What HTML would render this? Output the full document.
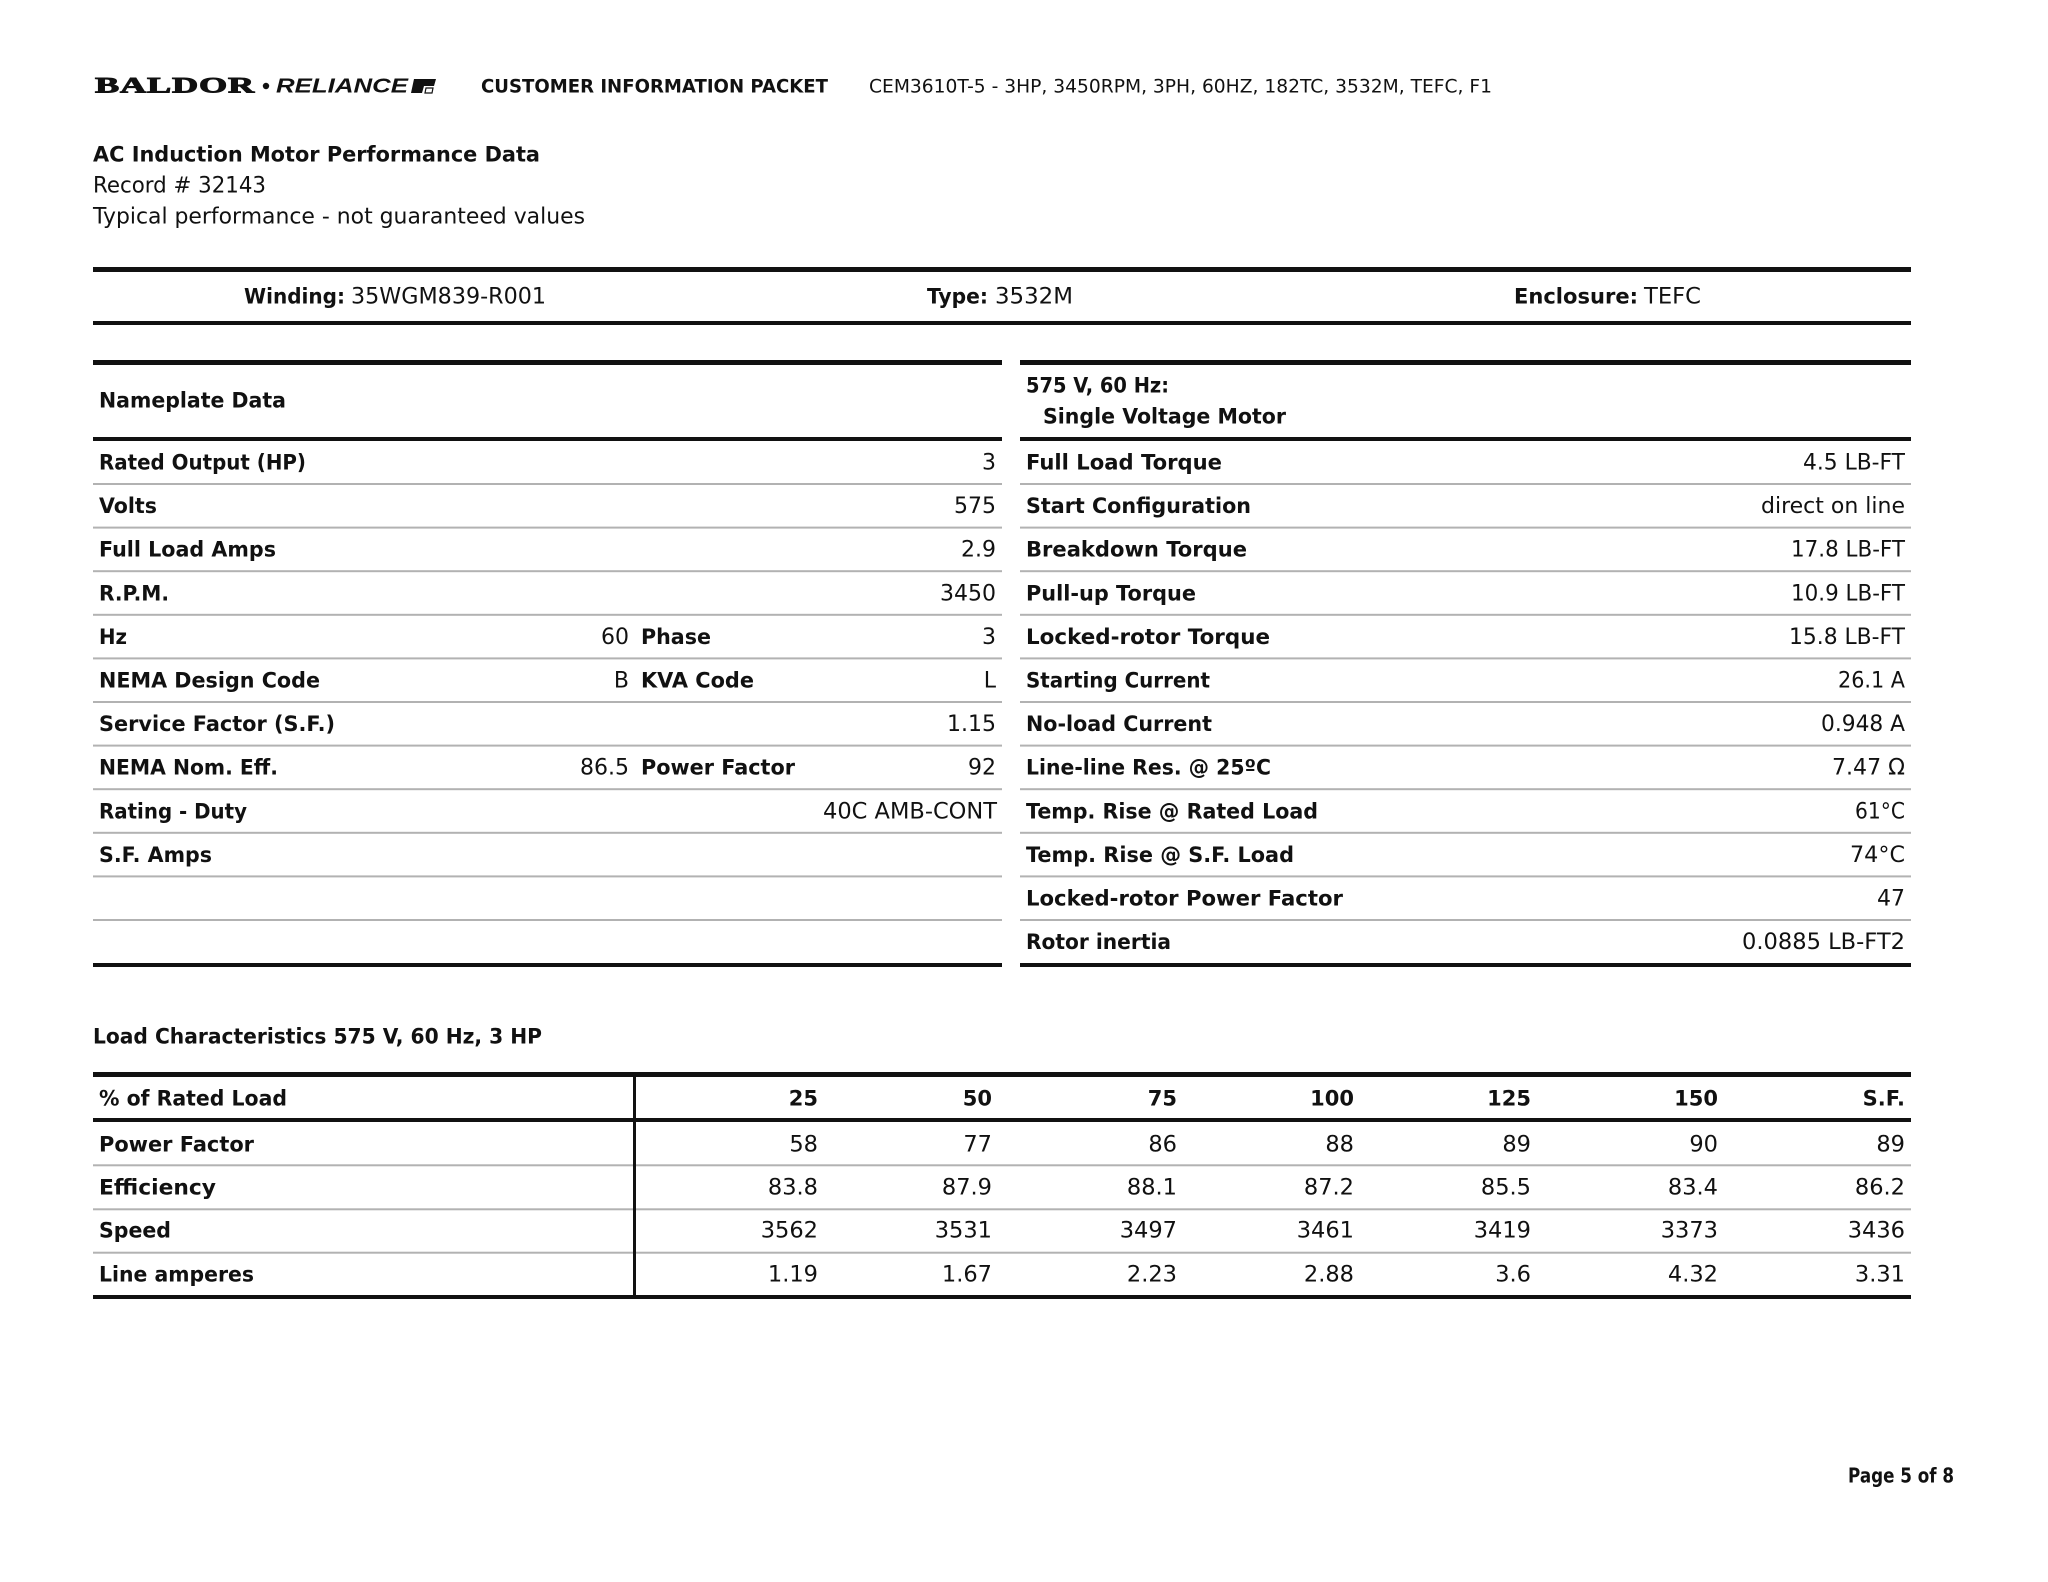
<!DOCTYPE html>
<html>
<head>
<meta charset="utf-8">
<style>
html,body{margin:0;padding:0;background:#fff;}
svg{display:block;}
text{fill:#111;font-family:"DejaVu Sans","Liberation Sans",sans-serif;transform:translateY(-1.5px);}
.b{font-weight:bold;font-size:21px;}
.r{font-size:22px;}
.n{font-size:22.5px;}
.g{fill:#b2b2b2;}
</style>
</head>
<body>
<svg width="2048" height="1582" viewBox="0 0 2048 1582" xmlns="http://www.w3.org/2000/svg">
<rect x="0" y="0" width="2048" height="1582" fill="#fff"/>

<!-- Header -->
<text x="95" y="94" style="font-family:'Liberation Serif',serif;font-weight:bold;font-size:22px;letter-spacing:0.5px;stroke:#111;stroke-width:0.9px" textLength="160" lengthAdjust="spacingAndGlyphs">BALDOR</text>
<circle cx="266" cy="86" r="3.2" fill="#111"/>
<text x="276" y="94" style="font-family:'Liberation Sans',sans-serif;font-weight:bold;font-style:italic;font-size:20.5px" textLength="132" lengthAdjust="spacingAndGlyphs">RELIANCE</text>
<polygon points="414,79 436,79 434,86 424,86 422,93 411,93" fill="#111"/>
<polygon points="426,88 433,88 432,93 425,93" fill="none" stroke="#111" stroke-width="1.2"/>
<text x="481" y="94" style="font-weight:bold;font-size:18.5px" textLength="347" lengthAdjust="spacingAndGlyphs">CUSTOMER INFORMATION PACKET</text>
<text x="869" y="94" style="font-size:19px" textLength="623" lengthAdjust="spacingAndGlyphs">CEM3610T-5 - 3HP, 3450RPM, 3PH, 60HZ, 182TC, 3532M, TEFC, F1</text>

<!-- Titles -->
<text x="93" y="163" class="b" style="font-size:21.5px" textLength="447" lengthAdjust="spacingAndGlyphs">AC Induction Motor Performance Data</text>
<text x="93" y="194" class="r" textLength="173" lengthAdjust="spacingAndGlyphs">Record # 32143</text>
<text x="93" y="225" class="r" textLength="492" lengthAdjust="spacingAndGlyphs">Typical performance - not guaranteed values</text>

<!-- Winding band -->
<rect x="93" y="267" width="1818" height="5" fill="#111"/>
<text x="244" y="305" class="b" textLength="101" lengthAdjust="spacingAndGlyphs">Winding:</text>
<text x="351" y="305" class="r" textLength="195" lengthAdjust="spacingAndGlyphs">35WGM839-R001</text>
<text x="927" y="305" class="b" textLength="61" lengthAdjust="spacingAndGlyphs">Type:</text>
<text x="995" y="305" class="r" textLength="78" lengthAdjust="spacingAndGlyphs">3532M</text>
<text x="1514" y="305" class="b" textLength="124" lengthAdjust="spacingAndGlyphs">Enclosure:</text>
<text x="1644" y="305" class="r" textLength="57" lengthAdjust="spacingAndGlyphs">TEFC</text>
<rect x="93" y="321" width="1818" height="4" fill="#111"/>

<!-- Left table -->
<rect x="93" y="360" width="909" height="5" fill="#111"/>
<rect x="93" y="437" width="909" height="4" fill="#111"/>
<text x="99" y="409" class="b" textLength="187" lengthAdjust="spacingAndGlyphs">Nameplate Data</text>
<g>
<rect class="g" x="93" y="483" width="909" height="2"/>
<rect class="g" x="93" y="526.6" width="909" height="2"/>
<rect class="g" x="93" y="570.2" width="909" height="2"/>
<rect class="g" x="93" y="613.8" width="909" height="2"/>
<rect class="g" x="93" y="657.4" width="909" height="2"/>
<rect class="g" x="93" y="701" width="909" height="2"/>
<rect class="g" x="93" y="744.6" width="909" height="2"/>
<rect class="g" x="93" y="788.2" width="909" height="2"/>
<rect class="g" x="93" y="831.8" width="909" height="2"/>
<rect class="g" x="93" y="875.4" width="909" height="2"/>
<rect class="g" x="93" y="919" width="909" height="2"/>
</g>
<rect x="93" y="963" width="909" height="4" fill="#111"/>

<text x="99" y="471" class="b" textLength="207" lengthAdjust="spacingAndGlyphs">Rated Output (HP)</text>
<text x="996" y="471" class="r" text-anchor="end">3</text>
<text x="99" y="514.6" class="b" textLength="58" lengthAdjust="spacingAndGlyphs">Volts</text>
<text x="996" y="514.6" class="r" text-anchor="end">575</text>
<text x="99" y="558.2" class="b" textLength="177" lengthAdjust="spacingAndGlyphs">Full Load Amps</text>
<text x="996" y="558.2" class="r" text-anchor="end">2.9</text>
<text x="99" y="601.8" class="b" textLength="70" lengthAdjust="spacingAndGlyphs">R.P.M.</text>
<text x="996" y="601.8" class="r" text-anchor="end">3450</text>
<text x="99" y="645.4" class="b" textLength="28" lengthAdjust="spacingAndGlyphs">Hz</text>
<text x="629" y="645.4" class="r" text-anchor="end">60</text>
<text x="641" y="645.4" class="b" textLength="70" lengthAdjust="spacingAndGlyphs">Phase</text>
<text x="996" y="645.4" class="r" text-anchor="end">3</text>
<text x="99" y="689" class="b" textLength="221" lengthAdjust="spacingAndGlyphs">NEMA Design Code</text>
<text x="629" y="689" class="r" text-anchor="end">B</text>
<text x="641" y="689" class="b" textLength="113" lengthAdjust="spacingAndGlyphs">KVA Code</text>
<text x="996" y="689" class="r" text-anchor="end">L</text>
<text x="99" y="732.6" class="b" textLength="236" lengthAdjust="spacingAndGlyphs">Service Factor (S.F.)</text>
<text x="996" y="732.6" class="r" text-anchor="end">1.15</text>
<text x="99" y="776.2" class="b" textLength="179" lengthAdjust="spacingAndGlyphs">NEMA Nom. Eff.</text>
<text x="629" y="776.2" class="r" text-anchor="end">86.5</text>
<text x="641" y="776.2" class="b" textLength="154" lengthAdjust="spacingAndGlyphs">Power Factor</text>
<text x="996" y="776.2" class="r" text-anchor="end">92</text>
<text x="99" y="819.8" class="b" textLength="148" lengthAdjust="spacingAndGlyphs">Rating - Duty</text>
<text x="823" y="819.8" class="r" textLength="174" lengthAdjust="spacingAndGlyphs">40C AMB-CONT</text>
<text x="99" y="863.4" class="b" textLength="113" lengthAdjust="spacingAndGlyphs">S.F. Amps</text>

<!-- Right table -->
<rect x="1020" y="360" width="891" height="5" fill="#111"/>
<rect x="1020" y="437" width="891" height="4" fill="#111"/>
<text x="1026" y="394" class="b" textLength="143" lengthAdjust="spacingAndGlyphs">575 V, 60 Hz:</text>
<text x="1043" y="425" class="b" textLength="243" lengthAdjust="spacingAndGlyphs">Single Voltage Motor</text>
<g>
<rect class="g" x="1020" y="483" width="891" height="2"/>
<rect class="g" x="1020" y="526.6" width="891" height="2"/>
<rect class="g" x="1020" y="570.2" width="891" height="2"/>
<rect class="g" x="1020" y="613.8" width="891" height="2"/>
<rect class="g" x="1020" y="657.4" width="891" height="2"/>
<rect class="g" x="1020" y="701" width="891" height="2"/>
<rect class="g" x="1020" y="744.6" width="891" height="2"/>
<rect class="g" x="1020" y="788.2" width="891" height="2"/>
<rect class="g" x="1020" y="831.8" width="891" height="2"/>
<rect class="g" x="1020" y="875.4" width="891" height="2"/>
<rect class="g" x="1020" y="919" width="891" height="2"/>
</g>
<rect x="1020" y="963" width="891" height="4" fill="#111"/>

<text x="1026" y="471" class="b" textLength="196" lengthAdjust="spacingAndGlyphs">Full Load Torque</text>
<text x="1803" y="471" class="r" textLength="102" lengthAdjust="spacingAndGlyphs">4.5 LB-FT</text>
<text x="1026" y="514.6" class="b" textLength="225" lengthAdjust="spacingAndGlyphs">Start Configuration</text>
<text x="1761" y="514.6" class="r" textLength="144" lengthAdjust="spacingAndGlyphs">direct on line</text>
<text x="1026" y="558.2" class="b" textLength="221" lengthAdjust="spacingAndGlyphs">Breakdown Torque</text>
<text x="1791" y="558.2" class="r" textLength="114" lengthAdjust="spacingAndGlyphs">17.8 LB-FT</text>
<text x="1026" y="601.8" class="b" textLength="170" lengthAdjust="spacingAndGlyphs">Pull-up Torque</text>
<text x="1791" y="601.8" class="r" textLength="114" lengthAdjust="spacingAndGlyphs">10.9 LB-FT</text>
<text x="1026" y="645.4" class="b" textLength="244" lengthAdjust="spacingAndGlyphs">Locked-rotor Torque</text>
<text x="1789" y="645.4" class="r" textLength="116" lengthAdjust="spacingAndGlyphs">15.8 LB-FT</text>
<text x="1026" y="689" class="b" textLength="184" lengthAdjust="spacingAndGlyphs">Starting Current</text>
<text x="1838" y="689" class="r" textLength="67" lengthAdjust="spacingAndGlyphs">26.1 A</text>
<text x="1026" y="732.6" class="b" textLength="186" lengthAdjust="spacingAndGlyphs">No-load Current</text>
<text x="1821" y="732.6" class="r" textLength="84" lengthAdjust="spacingAndGlyphs">0.948 A</text>
<text x="1026" y="776.2" class="b" textLength="245" lengthAdjust="spacingAndGlyphs">Line-line Res. @ 25ºC</text>
<text x="1832" y="776.2" class="r" textLength="73" lengthAdjust="spacingAndGlyphs">7.47 Ω</text>
<text x="1026" y="819.8" class="b" textLength="292" lengthAdjust="spacingAndGlyphs">Temp. Rise @ Rated Load</text>
<text x="1855" y="819.8" class="r" textLength="50" lengthAdjust="spacingAndGlyphs">61°C</text>
<text x="1026" y="863.4" class="b" textLength="268" lengthAdjust="spacingAndGlyphs">Temp. Rise @ S.F. Load</text>
<text x="1850" y="863.4" class="r" textLength="55" lengthAdjust="spacingAndGlyphs">74°C</text>
<text x="1026" y="907" class="b" textLength="317" lengthAdjust="spacingAndGlyphs">Locked-rotor Power Factor</text>
<text x="1905" y="907" class="r" text-anchor="end">47</text>
<text x="1026" y="950.6" class="b" textLength="145" lengthAdjust="spacingAndGlyphs">Rotor inertia</text>
<text x="1742" y="950.6" class="r" textLength="163" lengthAdjust="spacingAndGlyphs">0.0885 LB-FT2</text>

<!-- Load characteristics -->
<text x="93" y="1045" class="b" textLength="449" lengthAdjust="spacingAndGlyphs">Load Characteristics 575 V, 60 Hz, 3 HP</text>
<rect x="93" y="1072" width="1818" height="5" fill="#111"/>
<rect x="93" y="1118" width="1818" height="4" fill="#111"/>
<rect class="g" x="93" y="1164.3" width="1818" height="2"/>
<rect class="g" x="93" y="1208.3" width="1818" height="2"/>
<rect class="g" x="93" y="1251.7" width="1818" height="2"/>
<rect x="93" y="1295" width="1818" height="4" fill="#111"/>
<rect x="633" y="1072" width="3" height="227" fill="#111"/>

<text x="99" y="1107" class="b" textLength="188" lengthAdjust="spacingAndGlyphs">% of Rated Load</text>
<g text-anchor="end">
<text x="818" y="1107" class="b">25</text>
<text x="992" y="1107" class="b">50</text>
<text x="1177" y="1107" class="b">75</text>
<text x="1354" y="1107" class="b">100</text>
<text x="1531" y="1107" class="b">125</text>
<text x="1718" y="1107" class="b">150</text>
<text x="1905" y="1107" class="b">S.F.</text>
</g>

<text x="99" y="1153" class="b" textLength="155" lengthAdjust="spacingAndGlyphs">Power Factor</text>
<text x="99" y="1196" class="b" textLength="117" lengthAdjust="spacingAndGlyphs">Efficiency</text>
<text x="99" y="1239" class="b" textLength="72" lengthAdjust="spacingAndGlyphs">Speed</text>
<text x="99" y="1283" class="b" textLength="155" lengthAdjust="spacingAndGlyphs">Line amperes</text>

<g text-anchor="end">
<text x="818" y="1153" class="n">58</text>
<text x="992" y="1153" class="n">77</text>
<text x="1177" y="1153" class="n">86</text>
<text x="1354" y="1153" class="n">88</text>
<text x="1531" y="1153" class="n">89</text>
<text x="1718" y="1153" class="n">90</text>
<text x="1905" y="1153" class="n">89</text>

<text x="818" y="1196" class="n">83.8</text>
<text x="992" y="1196" class="n">87.9</text>
<text x="1177" y="1196" class="n">88.1</text>
<text x="1354" y="1196" class="n">87.2</text>
<text x="1531" y="1196" class="n">85.5</text>
<text x="1718" y="1196" class="n">83.4</text>
<text x="1905" y="1196" class="n">86.2</text>

<text x="818" y="1239" class="n">3562</text>
<text x="992" y="1239" class="n">3531</text>
<text x="1177" y="1239" class="n">3497</text>
<text x="1354" y="1239" class="n">3461</text>
<text x="1531" y="1239" class="n">3419</text>
<text x="1718" y="1239" class="n">3373</text>
<text x="1905" y="1239" class="n">3436</text>

<text x="818" y="1283" class="n">1.19</text>
<text x="992" y="1283" class="n">1.67</text>
<text x="1177" y="1283" class="n">2.23</text>
<text x="1354" y="1283" class="n">2.88</text>
<text x="1531" y="1283" class="n">3.6</text>
<text x="1718" y="1283" class="n">4.32</text>
<text x="1905" y="1283" class="n">3.31</text>
</g>

<!-- Footer -->
<text x="1848" y="1484" style="font-weight:bold;font-size:20px" textLength="106" lengthAdjust="spacingAndGlyphs">Page 5 of 8</text>
</svg>
</body>
</html>
